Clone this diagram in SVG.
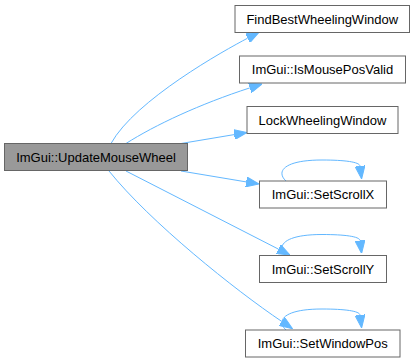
<svg xmlns="http://www.w3.org/2000/svg" width="415" height="363" viewBox="0 0 415 363">
  <style>
    .node rect { fill: #ffffff; stroke: #666666; stroke-width: 1; }
    .node.main rect { fill: #999999; }
    .node text { font-family: "Liberation Sans", Arial, sans-serif; font-size: 13px; fill: #000000; text-anchor: middle; }
    .edge { fill: none; stroke: #63b8ff; stroke-width: 1; marker-end: url(#arrow); }
  </style>
  <defs>
    <marker id="arrow" viewBox="0 0 13 10" refX="0" refY="5" markerWidth="13" markerHeight="10" markerUnits="userSpaceOnUse" orient="auto">
      <path d="M0,0 L13,5 L0,10 Z" fill="#63b8ff" stroke="#63b8ff" stroke-width="1"/>
    </marker>
  </defs>
  <rect width="415" height="363" fill="#ffffff"/>

  <g id="connectors">
    <path class="edge" d="M111,143.5 C135,100 225,50 247.6,38.2"/>
    <path class="edge" d="M126,143.5 C155,125 200,104 249.8,87.9"/>
    <path class="edge" d="M181,143.5 L234.2,134.6"/>
    <path class="edge" d="M181,171 L246.2,181.9"/>
    <path class="edge" d="M126,171 L278.4,249.1"/>
    <path class="edge" d="M109,171 C150,222 235,290 281.7,321.4"/>
    <path class="edge" d="M286,181 C276,172 283,160 322,160 C345,160 359.5,162 360,166"/>
    <path class="edge" d="M286,255.5 C276,246.5 283,234.5 322,234.5 C345,234.5 359.5,236.5 360,240.5"/>
    <path class="edge" d="M286,330 C276,321 283,309 322,309 C345,309 359.5,311 360,315"/>
  </g>

  <g id="node-UpdateMouseWheel" class="node main">
    <rect x="4.5" y="143.5" width="183" height="27"/>
    <text x="96" y="161.5">ImGui::UpdateMouseWheel</text>
  </g>
  <g id="node-FindBestWheelingWindow" class="node">
    <rect x="235" y="5.5" width="174.5" height="27"/>
    <text x="322.25" y="23.5">FindBestWheelingWindow</text>
  </g>
  <g id="node-IsMousePosValid" class="node">
    <rect x="239.5" y="56" width="166" height="27"/>
    <text x="322.5" y="74">ImGui::IsMousePosValid</text>
  </g>
  <g id="node-LockWheelingWindow" class="node">
    <rect x="247" y="106.5" width="151" height="27"/>
    <text x="322.5" y="124.5">LockWheelingWindow</text>
  </g>
  <g id="node-SetScrollX" class="node">
    <rect x="259.5" y="181" width="127" height="27"/>
    <text x="323" y="199">ImGui::SetScrollX</text>
  </g>
  <g id="node-SetScrollY" class="node">
    <rect x="259.5" y="255.5" width="127" height="27"/>
    <text x="323" y="273.5">ImGui::SetScrollY</text>
  </g>
  <g id="node-SetWindowPos" class="node">
    <rect x="245.5" y="330" width="154.5" height="27"/>
    <text x="322.75" y="348">ImGui::SetWindowPos</text>
  </g>
</svg>
